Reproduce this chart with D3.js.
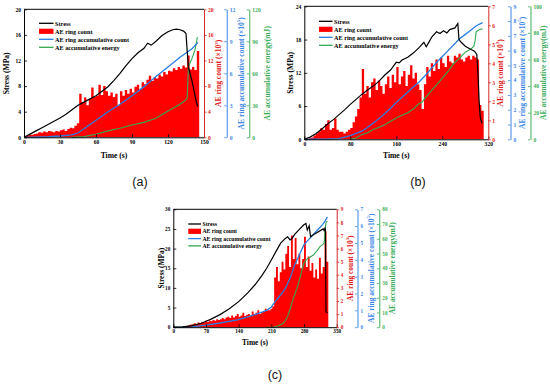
<!DOCTYPE html>
<html><head><meta charset="utf-8">
<script src="https://cdn.jsdelivr.net/npm/d3@7"></script>
<style>
body{margin:0;background:#fff}
svg{display:block}
</style>
</head><body>
<svg id="c" width="550" height="384"></svg>
<script>
// ---------------- DATA ----------------
// Panel (a)
const aRingStep = 2; // seconds per bar
const aRing = [0.2,0.3,0.4,0.4,0.5,0.6,0.8,0.7,0.9,0.8,
  1.0,0.9,0.8,1.0,0.9,1.1,1.2,1.0,1.3,1.5,
  1.4,1.8,2.2,6.8,5.5,6.2,5.0,6.0,7.8,6.3,
  6.5,8.2,6.6,8.0,7.2,6.5,7.0,6.3,6.8,5.0,
  7.2,6.5,7.4,6.8,7.6,7.0,7.9,8.2,7.5,8.6,
  8.3,9.0,9.6,8.8,9.4,9.2,9.8,9.5,10.2,9.8,
  10.4,10.3,10.8,10.5,11.0,10.7,11.2,10.9,12.8,10.6,
  11.0,10.5,13.5];
const aStressT = [0,5,10,15,20,25,30,35,40,45,50,55,60,65,70,75,80,85,90,95,100,103,106,110,115,120,124,127,130,133,135,136,137,138,140,142,144,145];
const aStressV = [0,0.5,1.0,1.5,2.0,2.5,3.0,3.6,4.3,5.0,5.5,6.0,6.5,7.2,7.9,8.9,10.0,11.2,12.3,13.2,13.9,14.7,14.4,15.0,15.9,16.5,16.8,16.9,16.8,16.6,16.2,13.5,11.0,10.2,8.8,7.0,5.2,4.8];
const aCountT = [0,20,30,40,45,50,60,70,80,90,100,110,120,130,140,145];
const aCountV = [0,0.05,0.12,0.22,0.4,0.8,1.6,2.4,3.1,3.9,4.75,5.7,6.6,7.5,8.3,8.9];
const aEnergyT = [40,50,60,70,80,90,100,110,120,130,135,136,137,140,142.5,144.5];
const aEnergyV = [0,0.6,2.8,6,8.4,11.6,14,17.8,24.7,31,35,36.5,66,74,82,94];
const aTimeTicks = [0,30,60,90,120,150];
const aStressTicks = [0,4,8,12,16,20];
const aRingTicks = [0,4,8,12,16,20];
const aCountTicks = [0,3,6,9,12];
const aEnergyTicks = [0,30,60,90,120];

// Panel (b)
const bRingStep = 4;
const bRing = [0,0,0.05,0.1,0.2,0.3,0.4,0.6,0.5,0.8,
  1.0,0.5,0.6,1.1,0.5,0.4,0.4,0.3,0.4,0.5,
  0.6,0.9,1.2,1.6,2.2,3.7,2.4,2.8,2.2,3.0,
  3.2,2.6,3.1,2.8,2.4,2.9,3.3,2.7,3.4,3.0,
  3.8,2.9,3.3,3.6,2.8,3.4,3.9,3.2,3.5,2.9,
  2.6,1.6,2.9,3.8,3.3,4.0,3.6,4.2,3.7,4.3,
  4.0,3.8,4.4,4.1,4.0,4.4,4.3,4.5,4.2,4.1,
  4.3,4.4,4.2,4.4,4.3,4.2,1.8,1.5];
const bStressT = [0,10,20,30,40,50,60,70,80,90,100,110,120,130,140,150,155,160,165,170,180,190,200,208,212,216,222,230,236,242,248,253,262,267,269,272,280,290,296,300,302,304,306,309];
const bStressV = [0,0.4,1.0,1.8,2.7,3.5,4.4,5.3,6.3,7.2,8.1,8.9,9.6,10.5,11.6,12.5,13.2,13.9,13.8,14.3,14.8,15.6,16.6,17.5,16.7,17.4,18.5,19.4,19.1,19.6,19.2,19.8,20.1,20.9,18.0,17.6,16.8,16.2,15.9,15.3,12.0,7.0,4.0,2.9];
const bCountT = [0,40,60,80,90,100,110,120,130,140,150,160,170,180,190,200,210,220,230,240,250,260,270,280,290,300,310];
const bCountV = [0,0.02,0.05,0.25,0.4,0.55,0.8,1.1,1.4,1.75,2.1,2.5,2.85,3.2,3.55,3.9,4.3,4.75,5.2,5.6,6.0,6.4,6.8,7.1,7.4,7.7,7.9];
const bEnergyT = [80,86,90,100,110,120,130,140,150,160,170,180,190,200,205,210,220,230,240,250,260,270,280,290,295,297,299,305,310];
const bEnergyV = [0,0.5,1,3.5,5,7.3,9,11,13.5,16,18,20,23,27,28,31,36,41,46,51,57,61,65.5,68,70,74,81,82.5,83];
const bTimeTicks = [0,80,160,240,320];
const bStressTicks = [0,6,12,18,24];
const bRingTicks = [0,1,2,3,4,5,6,7];
const bCountTicks = [0,1,2,3,4,5,6,7,8,9];
const bEnergyTicks = [0,20,40,60,80,100];

// Panel (c)
const cRingStep = 4;
const cRing = [0,0,0,0,0,0.05,0.1,0.1,0.15,0.2,
  0.2,0.3,0.25,0.35,0.3,0.4,0.35,0.5,0.4,0.5,
  0.45,0.55,0.5,0.6,0.55,0.6,0.7,0.6,0.75,0.8,
  0.7,0.9,0.75,0.85,1.0,0.8,0.9,1.1,0.85,0.95,
  1.0,0.9,1.2,1.0,1.1,1.3,1.0,1.15,1.2,1.4,
  1.3,1.3,1.4,1.6,3.8,4.6,3.5,4.2,5.0,4.4,
  5.6,6.2,4.6,7.0,5.2,6.8,4.8,5.6,4.5,5.2,
  6.9,4.6,5.4,4.3,4.9,3.8,4.4,3.7,5.3,4.1,
  4.6,7.3,5.0];
const cStressT = [0,20,40,60,70,80,100,120,140,160,175,190,200,210,220,230,240,245,250,255,260,270,279,284,287,291,294,300,310,321,323,325,326,327,330];
const cStressV = [0,0.1,0.4,1.0,1.5,2.0,3.2,4.7,6.5,8.8,10.8,13.2,15.0,17.1,19.3,21.4,22.6,23.0,22.2,22.7,23.6,24.9,26.0,26.4,24.7,25.8,23.0,23.5,24.2,25.0,24.6,25.2,24.8,4.0,3.6];
const cCountT = [0,40,70,100,140,175,200,210,215,225,235,240,250,260,270,280,290,300,310,320,325,330];
const cCountV = [0,0.02,0.12,0.25,0.45,0.75,1.0,1.2,1.4,1.75,2.1,2.3,2.9,3.7,4.3,4.9,5.2,5.5,5.8,6.1,6.3,6.55];
const cEnergyT = [200,215,225,235,240,245,250,255,260,265,270,275,280,285,290,300,308,315,320,323,325,327,330];
const cEnergyV = [0,0,1,2.5,4.5,7.5,12,17.5,22,26.5,32,38,43.5,46,47,49,52,55,56,57,65,71,72];
const cTimeTicks = [0,70,140,210,280,350];
const cStressTicks = [0,5,10,15,20,25,30];
const cRingTicks = [0,1,2,3,4,5,6,7,8,9];
const cCountTicks = [0,1,2,3,4,5,6,7];
const cEnergyTicks = [0,10,20,30,40,50,60,70,80];

const legendNames = ["Stress","AE ring count","AE ring accumulative count","AE accumulative energy"];

// ---------------- STYLE ----------------
const SERIF = "'Liberation Serif','Times New Roman',serif";
const C = {bar:"#ff0000", redAxis:"#d42a2a", redText:"#e01818", blue:"#2a7de1", blueAxis:"#3a86e6", green:"#33a852", greenAxis:"#3aad58"};

const svg = d3.select("#c");

function styleAxis(sel, color, fs){
  sel.attr("font-family", SERIF).attr("font-weight","bold").attr("font-size", fs);
  sel.select(".domain").attr("stroke", color).attr("stroke-width",1);
  sel.selectAll(".tick line").attr("stroke", color).attr("stroke-width",0.8);
  sel.selectAll(".tick text").attr("fill", color);
}

function vTitle(g, x, y, parts, color, fs){
  const t = g.append("text").attr("transform",`translate(${x},${y}) rotate(-90)`)
    .attr("text-anchor","middle").attr("dominant-baseline","central")
    .attr("font-family",SERIF).attr("font-weight","bold").attr("font-size",fs).attr("fill",color);
  parts.forEach(p=>{
    const s = t.append("tspan").text(p.t);
    if(p.sup){ s.attr("dy",-fs*0.35).attr("font-size",fs*0.65); }
    if(p.after){ s.attr("dy",fs*0.35); }
  });
}

function drawPanel(L, D){
  const g = svg.append("g");
  const x = d3.scaleLinear().domain([0, D.xTicks[D.xTicks.length-1]]).range([L.x0, L.x1]);
  const ys = d3.scaleLinear().domain([0, D.sTicks[D.sTicks.length-1]]).range([L.y0, L.y1]);
  const yr = d3.scaleLinear().domain([0, D.rTicks[D.rTicks.length-1]]).range([L.y0, L.y1]);
  const yb = d3.scaleLinear().domain([0, D.bTicks[D.bTicks.length-1]]).range([L.y0, L.y1]);
  const yg = d3.scaleLinear().domain([0, D.gTicks[D.gTicks.length-1]]).range([L.y0, L.y1]);

  // ring-count bars drawn as one stepped bar silhouette (no seams between adjacent bars)
  const pts = D.ring.map((v,i)=>[i*D.step, v]);
  pts.push([D.ring.length*D.step, D.ring[D.ring.length-1]]);
  const barArea = d3.area().curve(d3.curveStepAfter)
    .x(d=>x(d[0])).y0(L.y0).y1(d=>yr(d[1]));
  g.append("path").attr("d", barArea(pts)).attr("fill", C.bar);

  const mk = (ts, sc) => d3.line().x((d,i)=>x(ts[i])).y(d=>sc(d));
  g.append("path").attr("d", mk(D.eT, yg)(D.eV)).attr("fill","none").attr("stroke",C.green).attr("stroke-width",1.1);
  g.append("path").attr("d", mk(D.cT, yb)(D.cV)).attr("fill","none").attr("stroke",C.blue).attr("stroke-width",1.3);
  g.append("path").attr("d", mk(D.sT, ys)(D.sV)).attr("fill","none").attr("stroke","#000").attr("stroke-width",1.2);

  const fs = L.tickFs;
  // axes
  const ax = g.append("g").attr("transform",`translate(0,${L.y0})`)
    .call(d3.axisBottom(x).tickValues(D.xTicks).tickSize(-3).tickSizeOuter(0).tickPadding(2.5).tickFormat(d3.format("d")));
  styleAxis(ax, "#000", fs);
  const al = g.append("g").attr("transform",`translate(${L.x0},0)`)
    .call(d3.axisLeft(ys).tickValues(D.sTicks).tickSize(-3).tickSizeOuter(0).tickPadding(3).tickFormat(d3.format("d")));
  styleAxis(al, "#000", fs);
  g.append("line").attr("x1",L.x0).attr("x2",L.x1).attr("y1",L.y1).attr("y2",L.y1).attr("stroke","#000").attr("stroke-width",1);
  const ar = g.append("g").attr("transform",`translate(${L.x1},0)`)
    .call(d3.axisRight(yr).tickValues(D.rTicks).tickSize(2.5).tickSizeOuter(0).tickPadding(1.5).tickFormat(d3.format("d")));
  styleAxis(ar, C.redAxis, fs); ar.selectAll(".tick text").attr("fill", C.redText);
  const abx = g.append("g").attr("transform",`translate(${L.bX},0)`)
    .call(d3.axisRight(yb).tickValues(D.bTicks).tickSize(-2.5).tickSizeOuter(0).tickPadding(3).tickFormat(d3.format("d")));
  styleAxis(abx, C.blueAxis, fs);
  const agx = g.append("g").attr("transform",`translate(${L.gX},0)`)
    .call(d3.axisRight(yg).tickValues(D.gTicks).tickSize(-2.5).tickSizeOuter(0).tickPadding(3).tickFormat(d3.format("d")));
  styleAxis(agx, C.greenAxis, fs);

  // titles
  const midY = (L.y0+L.y1)/2, tfs = L.titleFs;
  vTitle(g, L.sTitleX, midY, [{t:"Stress (MPa)"}], "#000", tfs);
  vTitle(g, L.rTitleX, midY, [{t:"AE ring count (×10"},{t:"3",sup:true},{t:")",after:true}], C.redText, tfs);
  vTitle(g, L.bTitleX, midY, [{t:"AE ring accumulative count (×10"},{t:"5",sup:true},{t:")",after:true}], C.blueAxis, tfs);
  vTitle(g, L.gTitleX, midY, [{t:"AE accumulative energy(mJ)"}], C.greenAxis, tfs);
  g.append("text").attr("x",(L.x0+L.x1)/2).attr("y",L.timeY).attr("text-anchor","middle").attr("dominant-baseline","central")
    .attr("font-family",SERIF).attr("font-weight","bold").attr("font-size",tfs).text("Time (s)");

  // legend
  const lg = g.append("g");
  const lw = L.legW;
  legendNames.forEach((n,i)=>{
    const yy = L.legY + i*L.legStep;
    if(i===1){
      lg.append("rect").attr("x",L.legX).attr("y",yy-2.6).attr("width",lw).attr("height",5.2).attr("fill",C.bar);
    } else {
      const col = i===0 ? "#000" : (i===2 ? C.blue : C.green);
      lg.append("line").attr("x1",L.legX).attr("x2",L.legX+lw).attr("y1",yy).attr("y2",yy).attr("stroke",col).attr("stroke-width",1.3);
    }
    lg.append("text").attr("x",L.legX+lw+1.5).attr("y",yy).attr("dominant-baseline","central")
      .attr("font-family",SERIF).attr("font-weight","bold").attr("font-size",L.legFs).text(n);
  });

  // panel label
  g.append("text").attr("x",L.labX).attr("y",L.labY).attr("text-anchor","middle").attr("dominant-baseline","central")
    .attr("font-family","'Liberation Sans',Arial,sans-serif").attr("font-size",12.5).attr("fill","#111").text(L.label);
}

drawPanel(
  {x0:24, x1:204, y0:137.3, y1:9.3, bX:226.7, gX:249.3, sTitleX:5.5, rTitleX:218.3, bTitleX:240.7, gTitleX:266.5,
   timeY:155, tickFs:5.6, titleFs:7.6, legX:39, legY:23.3, legStep:8, legW:14.5, legFs:6.2, label:"(a)", labX:140, labY:182},
  {step:aRingStep, ring:aRing, sT:aStressT, sV:aStressV, cT:aCountT, cV:aCountV, eT:aEnergyT, eV:aEnergyV,
   xTicks:aTimeTicks, sTicks:aStressTicks, rTicks:aRingTicks, bTicks:aCountTicks, gTicks:aEnergyTicks});

drawPanel(
  {x0:304.3, x1:488.3, y0:139.3, y1:6.3, bX:510.5, gX:530.5, sTitleX:290, rTitleX:500, bTitleX:521.7, gTitleX:543.3,
   timeY:155, tickFs:5.6, titleFs:7.6, legX:319, legY:21.3, legStep:8, legW:13.5, legFs:6.2, label:"(b)", labX:418, labY:182},
  {step:bRingStep, ring:bRing, sT:bStressT, sV:bStressV, cT:bCountT, cV:bCountV, eT:bEnergyT, eV:bEnergyV,
   xTicks:bTimeTicks, sTicks:bStressTicks, rTicks:bRingTicks, bTicks:bCountTicks, gTicks:bEnergyTicks});

drawPanel(
  {x0:173.3, x1:336.7, y0:327.2, y1:209.3, bX:357.5, gX:379.3, sTitleX:160.7, rTitleX:350, bTitleX:370.7, gTitleX:391.7,
   timeY:342.7, tickFs:5.2, titleFs:7.4, legX:188.3, legY:224, legStep:7.3, legW:12.7, legFs:5.7, label:"(c)", labX:275, labY:375},
  {step:cRingStep, ring:cRing, sT:cStressT, sV:cStressV, cT:cCountT, cV:cCountV, eT:cEnergyT, eV:cEnergyV,
   xTicks:cTimeTicks, sTicks:cStressTicks, rTicks:cRingTicks, bTicks:cCountTicks, gTicks:cEnergyTicks});
</script>
</body></html>
